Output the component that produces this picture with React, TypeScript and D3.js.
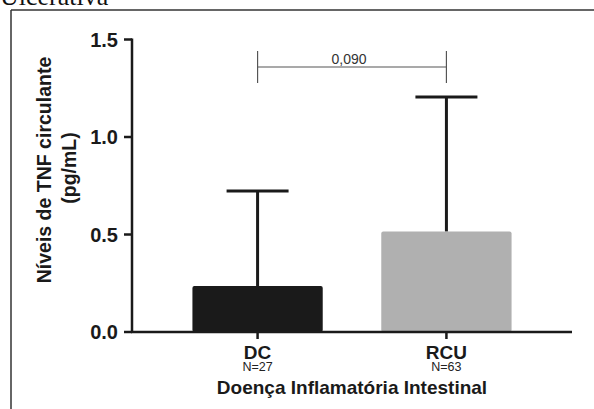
import React from 'react'
import * as d3 from 'd3'

const categories = ['DC', 'RCU']
const sampleSizes = ['N=27', 'N=63']
const means = [0.236, 0.516]
const errors = [0.487, 0.689]
const barColors = ['#1a1a1a', '#b0b0b0']
const yTicks = [0, 0.5, 1.0, 1.5]
const pValue = '0,090'

const width = 594
const height = 409
const sans = '"Liberation Sans", Arial, Helvetica, sans-serif'
const ink = '#1a1a1a'

const xScale = d3
	.scaleBand()
	.domain(categories)
	.range([132, 572])
	.paddingInner(0.31)
	.paddingOuter(0.32)

const yScale = d3.scaleLinear().domain([0, 1.5]).range([332, 39.5])

const center = (c: string) => (xScale(c) as number) + xScale.bandwidth() / 2

export default function App() {
	const [x0, x1] = xScale.range()
	const y0 = yScale(0)
	const capHalf = 31
	const bracketY = 67
	const c0 = center(categories[0])
	const c1 = center(categories[1])

	return (
		<svg
			width={width}
			height={height}
			style={{ position: 'absolute', top: 0, left: 0, background: '#fff' }}
		>
			{/* cropped caption + frame from the page around the figure */}
			<text x={0} y={5} fontFamily='"Liberation Serif", "Times New Roman", serif' fontSize={26} fill="#111">
				Ulcerativa
			</text>
			<line x1={11} x2={width} y1={10} y2={10} stroke="#333" strokeWidth={1.5} />
			<line x1={11} x2={11} y1={10} y2={height} stroke="#333" strokeWidth={1.5} />

			{/* bars */}
			{categories.map((c, i) => (
				<rect
					key={c}
					x={xScale(c)}
					y={yScale(means[i])}
					width={xScale.bandwidth()}
					height={y0 - yScale(means[i])}
					rx={2}
					fill={barColors[i]}
				/>
			))}

			{/* error bars (upper only) */}
			{categories.map((c, i) => {
				const cx = center(c)
				const top = yScale(means[i] + errors[i])
				return (
					<g key={c} stroke={ink} strokeWidth={3}>
						<line x1={cx} x2={cx} y1={yScale(means[i])} y2={top} />
						<line x1={cx - capHalf} x2={cx + capHalf} y1={top} y2={top} />
					</g>
				)
			})}

			{/* y axis */}
			<line x1={x0} x2={x0} y1={yScale(1.5) - 1} y2={y0 + 1} stroke={ink} strokeWidth={2.5} />
			{yTicks.map(t => (
				<g key={t}>
					<line x1={x0 - 8} x2={x0} y1={yScale(t)} y2={yScale(t)} stroke={ink} strokeWidth={2.5} />
					<text
						x={118}
						y={yScale(t)}
						dy="0.36em"
						textAnchor="end"
						fontFamily={sans}
						fontWeight="bold"
						fontSize={20}
						fill={ink}
					>
						{t.toFixed(1)}
					</text>
				</g>
			))}

			{/* x axis */}
			<line x1={x0 - 1} x2={x1} y1={y0} y2={y0} stroke={ink} strokeWidth={2.5} />
			{categories.map((c, i) => (
				<g key={c}>
					<line x1={center(c)} x2={center(c)} y1={y0} y2={y0 + 7} stroke={ink} strokeWidth={2.5} />
					<text x={center(c)} y={359} textAnchor="middle" fontFamily={sans} fill={ink}>
						<tspan fontWeight="bold" fontSize={19}>{c}</tspan>
						<tspan x={center(c)} dy={12} fontSize={12.5} fill="#222">
							{sampleSizes[i]}
						</tspan>
					</text>
				</g>
			))}
			<text
				x={(c0 + c1) / 2}
				y={393.5}
				textAnchor="middle"
				fontFamily={sans}
				fontWeight="bold"
				fontSize={19}
				fill={ink}
			>
				Doença Inflamatória Intestinal
			</text>

			{/* y axis title */}
			<g transform="rotate(-90)" fontFamily={sans} fontWeight="bold" fontSize={19.5} fill={ink} textAnchor="middle">
				<text x={-170} y={51}>Níveis de TNF circulante</text>
				<text x={-168} y={76}>(pg/mL)</text>
			</g>

			{/* significance bracket */}
			<g stroke="#555" strokeWidth={1.2}>
				<line x1={c0} x2={c1} y1={bracketY} y2={bracketY} />
				<line x1={c0} x2={c0} y1={bracketY - 16} y2={bracketY + 16} />
				<line x1={c1} x2={c1} y1={bracketY - 16} y2={bracketY + 16} />
			</g>
			<text x={(c0 + c1) / 2 - 3} y={64} textAnchor="middle" fontFamily={sans} fontSize={14} fill="#333">
				{pValue}
			</text>
		</svg>
	)
}
